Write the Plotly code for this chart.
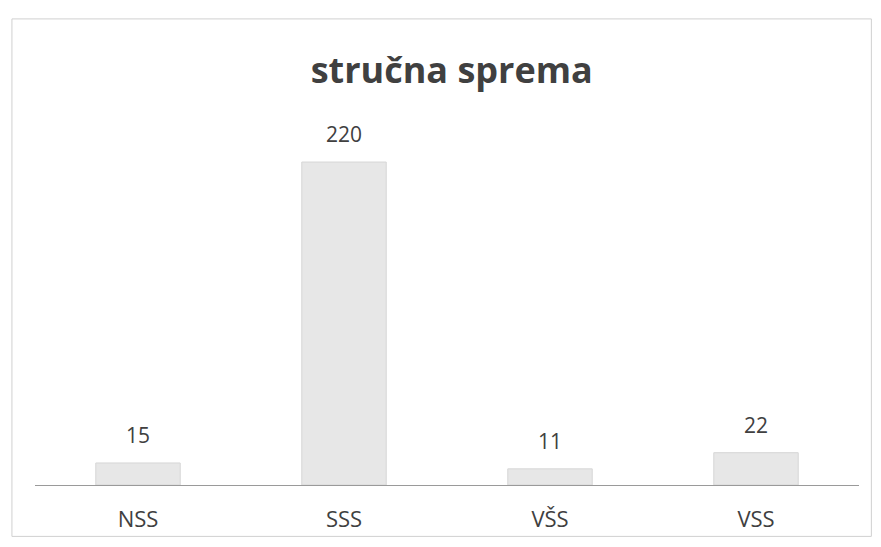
import plotly.graph_objs as go

categories = ["NSS", "SSS", "VŠS", "VSS"]
values = [15, 220, 11, 22]

FONT = "Open Sans, Liberation Sans, sans-serif"

fig = go.Figure()

fig.add_trace(
    go.Bar(
        x=categories,
        y=values,
        marker=dict(color="#e7e7e7", line=dict(color="#d6d6d6", width=1)),
        hoverinfo="x+y",
        showlegend=False,
    )
)

# value labels sit a bit higher than plotly's "outside" text
for cat, val in zip(categories, values):
    fig.add_annotation(
        x=cat,
        y=val,
        text=str(val),
        showarrow=False,
        yanchor="bottom",
        yshift=12,
        font=dict(family=FONT, size=21, color="#404040"),
    )

# thin frame of the scanned chart box
fig.add_shape(
    type="rect",
    xref="paper",
    yref="paper",
    x0=-0.028,
    x1=1.015,
    y0=-0.14,
    y1=1.27,
    line=dict(color="#d0d0d0", width=1),
)

fig.update_layout(
    title=dict(
        text="<b>stručna sprema</b>",
        x=0.513,
        xanchor="center",
        y=0.883,
        yanchor="middle",
        font=dict(family=FONT, size=36, color="#404040"),
    ),
    width=865,
    height=531,
    margin=dict(l=27, r=14, t=110, b=54),
    bargap=0.59,
    plot_bgcolor="white",
    paper_bgcolor="white",
    xaxis=dict(
        showline=True,
        linecolor="#9a9a9a",
        linewidth=1,
        showgrid=False,
        ticks="",
        automargin=False,
        ticklabelstandoff=15,
        tickfont=dict(family=FONT, size=22, color="#404040"),
    ),
    yaxis=dict(
        range=[0, 250],
        visible=False,
        showgrid=False,
        automargin=False,
    ),
)

fig.write_html("out.html")
